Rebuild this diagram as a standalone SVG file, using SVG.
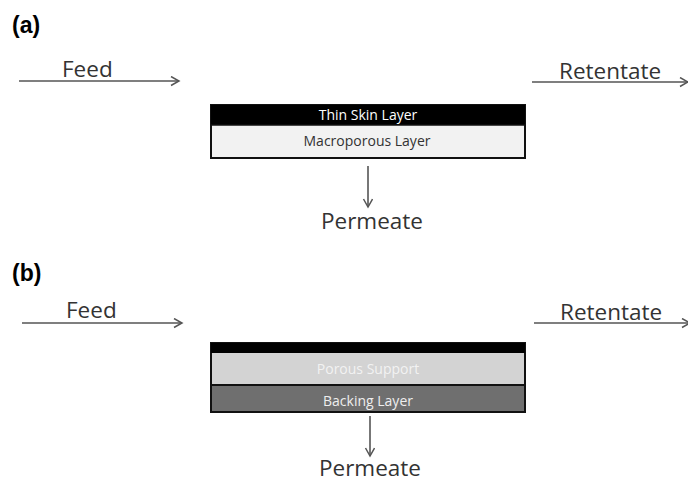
<svg xmlns="http://www.w3.org/2000/svg" width="688" height="484" viewBox="0 0 688 484">
<defs>
<marker id="chev" markerWidth="12" markerHeight="12" refX="9" refY="5" orient="auto" markerUnits="userSpaceOnUse">
<path d="M1,0.5 L9,5 L1,9.5" fill="none" stroke="#555" stroke-width="1.5"/>
</marker>
<style>
.lab{font-family:"Liberation Sans",Arial,sans-serif;font-weight:bold;font-size:23px;fill:#000}
.t{font-family:"Open Sans","DejaVu Sans",sans-serif;font-size:22.5px;fill:#333}
.s{font-family:"Open Sans","DejaVu Sans",sans-serif;font-size:14px;text-anchor:middle}
.ar{stroke:#555;stroke-width:1.6;fill:none;marker-end:url(#chev)}
</style>
</defs>
<rect width="688" height="484" fill="#fff"/>
<text class="lab" x="12" y="33">(a)</text>
<text class="lab" x="12" y="281">(b)</text>
<g id="connectors">
<line class="ar" x1="19" y1="81" x2="179" y2="81"/>
<line class="ar" x1="532" y1="82" x2="688" y2="82"/>
<line class="ar" x1="368" y1="166" x2="368" y2="207"/>
<line class="ar" x1="22" y1="323" x2="182" y2="323"/>
<line class="ar" x1="534" y1="323" x2="690" y2="323"/>
<line class="ar" x1="370" y1="416" x2="370" y2="456"/>
</g>
<g id="feed-a"><text class="t" x="62" y="77">Feed</text></g>
<g id="retentate-a"><text class="t" x="559" y="79">Retentate</text></g>
<g id="membrane-a">
<rect x="211" y="105" width="314" height="53" fill="#f2f2f2" stroke="#111" stroke-width="2"/>
<rect x="211" y="105" width="314" height="20" fill="#000"/>
<line x1="211" y1="125" x2="525" y2="125" stroke="#111" stroke-width="1.5"/>
<text class="s" x="368" y="120" fill="#fff">Thin Skin Layer</text>
<text class="s" x="367" y="146" fill="#333">Macroporous Layer</text>
</g>
<g id="permeate-a"><text class="t" x="372" y="229" text-anchor="middle">Permeate</text></g>
<g id="feed-b"><text class="t" x="66" y="318">Feed</text></g>
<g id="retentate-b"><text class="t" x="560" y="320">Retentate</text></g>
<g id="membrane-b">
<rect x="211" y="343" width="314" height="69" fill="#d3d3d3" stroke="#111" stroke-width="2"/>
<rect x="211" y="343" width="314" height="10" fill="#000"/>
<rect x="211" y="385" width="314" height="27" fill="#6f6f6f" stroke="#111" stroke-width="2"/>
<text class="s" x="368" y="374" fill="#f2f2f2">Porous Support</text>
<text class="s" x="368" y="406" fill="#eee">Backing  Layer</text>
</g>
<g id="permeate-b"><text class="t" x="370" y="476" text-anchor="middle">Permeate</text></g>
</svg>
